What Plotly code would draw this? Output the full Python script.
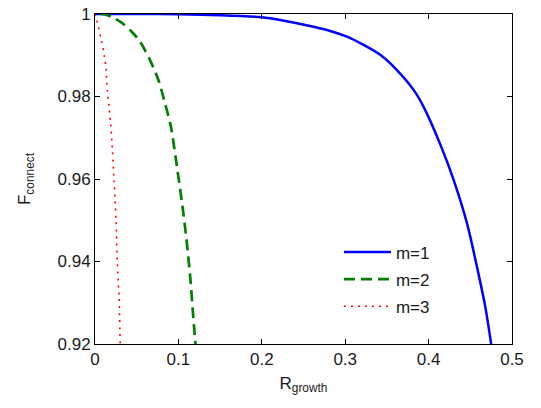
import plotly.graph_objects as go

# m=1 (blue solid)
m1_x = [0.0, 0.05, 0.10, 0.15, 0.20, 0.222, 0.262, 0.282, 0.302, 0.322, 0.342,
        0.362, 0.382, 0.394, 0.414, 0.430, 0.446, 0.458, 0.468, 0.475]
m1_y = [1.0, 1.0, 0.99995, 0.9997, 0.9992, 0.99855, 0.9969, 0.99588, 0.9945,
        0.9925, 0.9901, 0.9864, 0.9816, 0.9775, 0.9684, 0.9598, 0.9493, 0.9387,
        0.929, 0.920]

# m=2 (green dashed)
m2_x = [0.006, 0.012, 0.020, 0.032, 0.044, 0.054, 0.066, 0.076, 0.084, 0.091,
        0.0988, 0.1045, 0.1093, 0.1145, 0.1175, 0.1205]
m2_y = [1.0, 0.9999, 0.9993, 0.9979, 0.9957, 0.9933, 0.9888, 0.984, 0.9783,
        0.9727, 0.9622, 0.954, 0.946, 0.9355, 0.9274, 0.920]

# m=3 (red dotted)
m3_x = [0.0, 0.002, 0.004, 0.008, 0.011, 0.0132, 0.0148, 0.0172, 0.0188, 0.020,
        0.0228, 0.0252, 0.0268, 0.0288, 0.0302]
m3_y = [1.0, 0.9985, 0.9969, 0.9933, 0.990, 0.9868, 0.9816, 0.9767, 0.9735,
        0.9699, 0.9598, 0.950, 0.9396, 0.9315, 0.920]

x_ticks = [0, 0.1, 0.2, 0.3, 0.4, 0.5]
x_tick_labels = ["0", "0.1", "0.2", "0.3", "0.4", "0.5"]
y_ticks = [0.92, 0.94, 0.96, 0.98, 1.0]
y_tick_labels = ["0.92", "0.94", "0.96", "0.98", "1"]

FONT = "Liberation Sans, Arial, sans-serif"
TXT = "#1a1a1a"

fig = go.Figure()
fig.add_trace(go.Scatter(x=m1_x, y=m1_y, mode="lines", name="m=1", legendgroup="a",
                         line=dict(color="#0000FF", width=2.5, shape="spline",
                                   smoothing=0.8)))
fig.add_trace(go.Scatter(x=m2_x, y=m2_y, mode="lines", name="m=2", legendgroup="b",
                         line=dict(color="#007F00", width=2.7, dash="11px,6px",
                                   shape="spline", smoothing=0.8)))
fig.add_trace(go.Scatter(x=m3_x, y=m3_y, mode="lines", name="m=3", legendgroup="c",
                         line=dict(color="#FF0000", width=1.6, dash="2px,5px",
                                   shape="spline", smoothing=0.8)))

axis_common = dict(
    showline=True, linecolor="black", linewidth=1, mirror="ticks",
    ticks="inside", ticklen=5, tickcolor="black", tickwidth=1,
    showgrid=False, zeroline=False, automargin=False,
    tickfont=dict(family=FONT, size=17, color=TXT),
)

fig.update_layout(
    width=541, height=408,
    margin=dict(l=95, r=29, t=14, b=64),
    paper_bgcolor="white", plot_bgcolor="white",
    font=dict(family=FONT, size=17, color=TXT),
    showlegend=True,
    legend=dict(x=0.585, y=0.332, xanchor="left", yanchor="top",
                bgcolor="rgba(0,0,0,0)", borderwidth=0,
                font=dict(family=FONT, size=17, color=TXT),
                itemwidth=47, tracegroupgap=2),
    xaxis=dict(range=[0, 0.5], tickvals=x_ticks, ticktext=x_tick_labels,
               title=dict(text="R<sub>growth</sub>", standoff=8,
                          font=dict(family=FONT, size=17, color=TXT)),
               **axis_common),
    yaxis=dict(range=[0.92, 1.0], tickvals=y_ticks, ticktext=y_tick_labels,
               title=dict(text="F<sub>connect</sub>", standoff=22,
                          font=dict(family=FONT, size=17, color=TXT)),
               **axis_common),
)

fig.write_html("out.html",
               config={"displayModeBar": False},
               post_script="document.body.style.margin='0px';document.body.style.overflow='hidden';")
